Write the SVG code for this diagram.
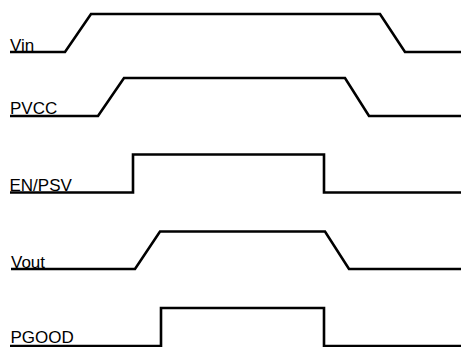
<svg xmlns="http://www.w3.org/2000/svg" width="461" height="347" viewBox="0 0 461 347">
<style>
.w{fill:none;stroke:#000;stroke-width:2.6;stroke-linejoin:miter}
.l{font-family:"Liberation Sans",Arial,sans-serif;font-size:17px;fill:#000}
</style>
<rect width="461" height="347" fill="#fff"/>
<g id="connectors">
<polyline class="w" points="10,52 65,52 91,14 380,14 405,52 461,52"/>
<polyline class="w" points="10,116 98,116 124,78 345,78 369,116 461,116"/>
<polyline class="w" points="10,192.5 133,192.5 133,154.5 324,154.5 324,192.5 461,192.5"/>
<polyline class="w" points="11,269 135,269 160,231.5 325,231.5 349,269 461,269"/>
<polyline class="w" points="10,346 161,346 161,308 324,308 324,346 461,346"/>
</g>
<g id="vin"><text class="l" x="10" y="50.5">Vin</text></g>
<g id="pvcc"><text class="l" x="10" y="114">PVCC</text></g>
<g id="enpsv"><text class="l" x="9.5" y="191">EN/PSV</text></g>
<g id="vout"><text class="l" x="11" y="267.5">Vout</text></g>
<g id="pgood"><text class="l" x="10.5" y="343">PGOOD</text></g>
</svg>
